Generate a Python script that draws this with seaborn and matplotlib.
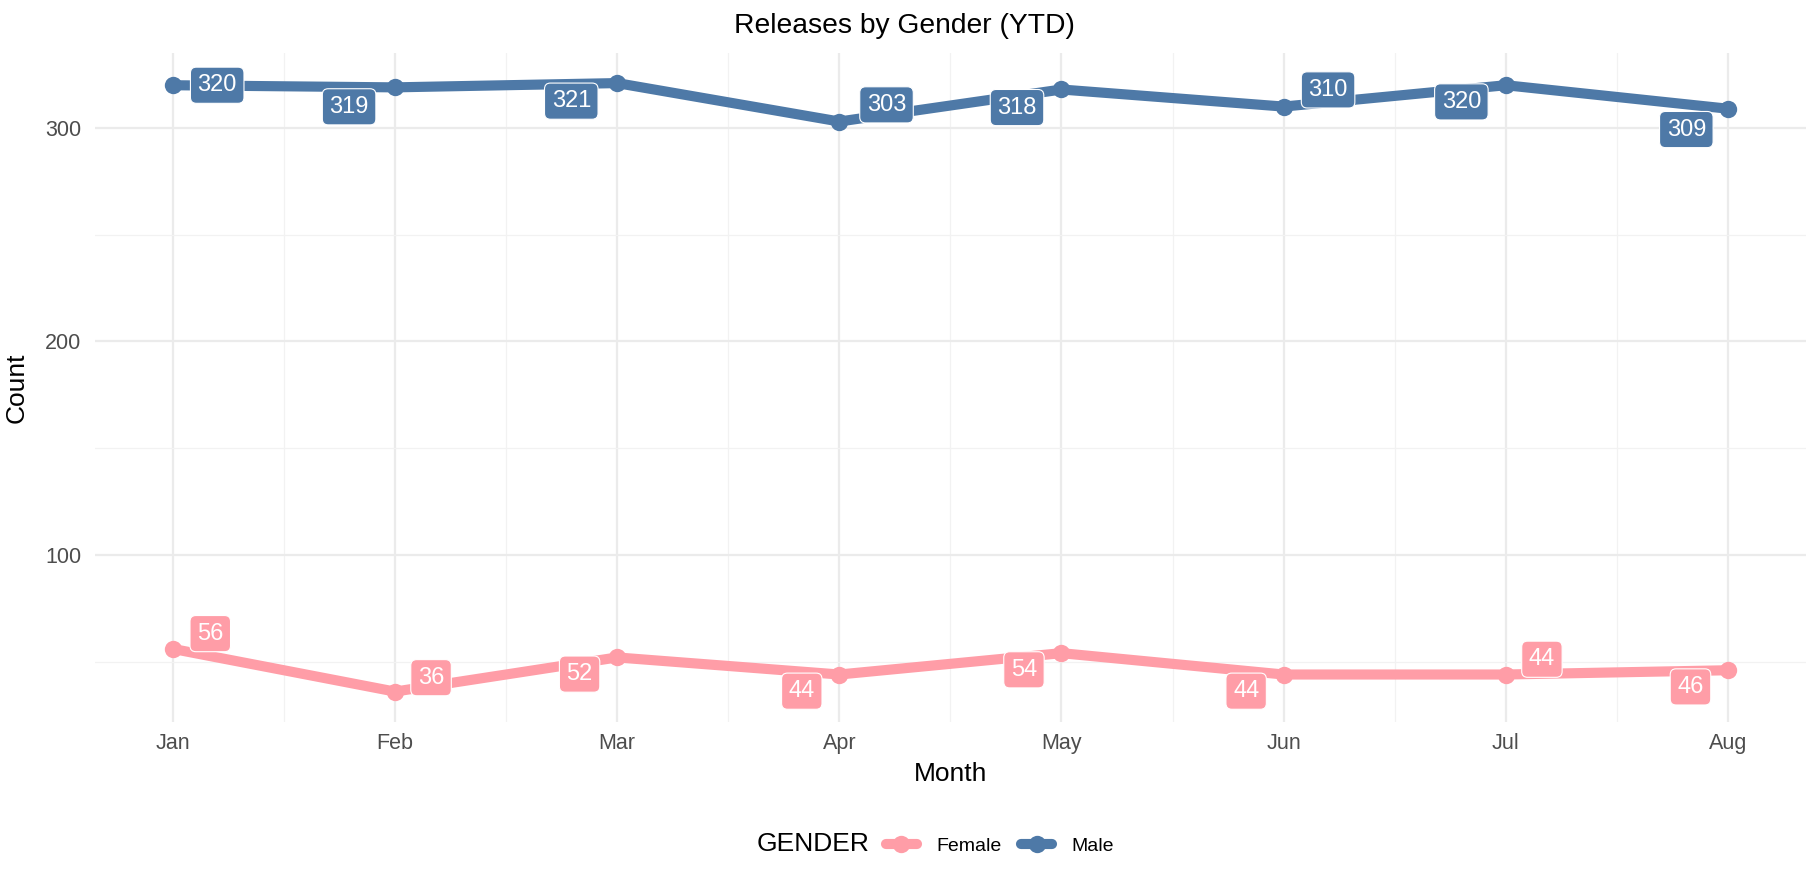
import pandas as pd
import matplotlib
matplotlib.use("Agg")
import matplotlib.pyplot as plt
import seaborn as sns
from matplotlib.lines import Line2D
from matplotlib.ticker import MultipleLocator

# Data
MONTHS = ['Jan', 'Feb', 'Mar', 'Apr', 'May', 'Jun', 'Jul', 'Aug']
FEMALE = [56, 36, 52, 44, 54, 44, 44, 46]
MALE = [320, 319, 321, 303, 318, 310, 320, 309]
GENDERS = ['Female', 'Male']
COLORS = {'Female': '#FF9DA7', 'Male': '#4E79A7'}

# label nudges (points), roughly what ggrepel came up with
FEMALE_NUDGE = [(27, 11), (26, 10), (-27, -12), (-27, -12), (-27, -12), (-27, -12), (26, 11), (-27, -12)]
MALE_NUDGE = [(32, 0), (-33, -14), (-33, -13), (34, 12), (-32, -13), (32, 12), (-32, -12), (-30, -15)]

df = pd.DataFrame({
    'Month': MONTHS * 2,
    'Count': FEMALE + MALE,
    'GENDER': ['Female'] * len(MONTHS) + ['Male'] * len(MONTHS),
})

sns.set_theme(style="whitegrid")
plt.rcParams['font.family'] = ['Liberation Sans', 'DejaVu Sans']
plt.rcParams['text.color'] = 'black'

fig = plt.figure(figsize=(18.13, 8.72), dpi=100)
ax = fig.add_axes([0.0524, 0.172, 0.9436, 0.7676])

sns.lineplot(
    data=df, x='Month', y='Count', hue='GENDER', hue_order=GENDERS,
    palette=COLORS, marker='o', markersize=12.5, markeredgewidth=0,
    linewidth=7.3, sort=False, legend=False, ax=ax,
)

# value labels
for gender, vals, nudges in [('Female', FEMALE, FEMALE_NUDGE), ('Male', MALE, MALE_NUDGE)]:
    for i, (v, (dx, dy)) in enumerate(zip(vals, nudges)):
        ax.annotate(
            f"{v}", (i, v), textcoords="offset points", xytext=(dx, dy),
            ha='center', va='center', color='white', fontsize=17,
            bbox=dict(boxstyle='round,pad=0.3,rounding_size=0.25',
                      facecolor=COLORS[gender], edgecolor='white', linewidth=0.8),
            zorder=5,
        )

ax.set_xlim(-0.35, 7.35)
ax.set_ylim(21.75, 335.25)
ax.set_yticks([100, 200, 300])
ax.yaxis.set_minor_locator(MultipleLocator(50))
ax.xaxis.set_minor_locator(MultipleLocator(0.5))
ax.grid(True, which='major', color='#EBEBEB', linewidth=1.6)
ax.grid(True, which='minor', color='#F2F2F2', linewidth=0.9)
ax.set_facecolor('white')
for s in ax.spines.values():
    s.set_visible(False)
ax.tick_params(axis='both', which='both', length=0, labelsize=15.5, labelcolor='#4D4D4D')
ax.tick_params(axis='x', pad=8)
ax.tick_params(axis='y', pad=10)

fig.text(0.4986, 0.962, "Releases by Gender (YTD)", fontsize=20.3, ha='center',
         va='baseline', color='black')
ax.set_xlabel("Month", fontsize=19, labelpad=6, color='black')
ax.set_ylabel("Count", fontsize=19, labelpad=12, color='black')

# legend at the bottom, title inline on the left
handles = [Line2D([], [], color=COLORS[g], linewidth=7.3, marker='o', markersize=12.5,
                  markeredgewidth=0) for g in GENDERS]
fig.text(0.4175, 0.018, "GENDER", fontsize=19, ha='left', va='bottom', color='black')
fig.legend(handles, GENDERS, loc='lower left', bbox_to_anchor=(0.479, 0.0), ncol=2,
           frameon=False, fontsize=14, handlelength=1.6, columnspacing=1.0,
           handletextpad=1.0, labelcolor='black')

plt.savefig("out.png", dpi=100)
plt.close()
